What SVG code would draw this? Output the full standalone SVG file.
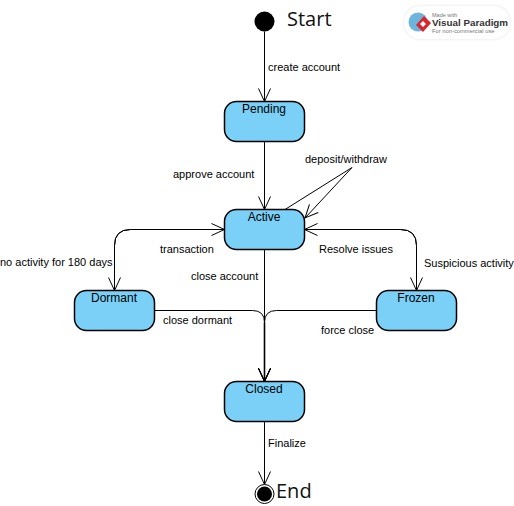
<svg xmlns="http://www.w3.org/2000/svg" width="514" height="506" viewBox="0 0 514 506">
<defs>
<filter id="soft" x="-20%" y="-40%" width="140%" height="180%"><feGaussianBlur stdDeviation="1.500"/></filter>
<marker id="open" markerUnits="userSpaceOnUse" markerWidth="16" markerHeight="14" refX="14" refY="7" viewBox="0 0 16 14" orient="auto"><path d="M1 1L14 7L1 13" fill="none" stroke="#000" stroke-width="1"/></marker>
</defs>
<style>
text{font-family:"Liberation Sans",Arial,sans-serif;fill:#000}
.state rect{fill:#7ad0f7;stroke:#000;stroke-width:1.5}
.state text{font-size:12px;text-anchor:middle}
.lbl{font-size:11px}
.big{font-family:"Open Sans","Noto Sans",sans-serif;font-size:20px;fill:#111}
#connectors path{fill:none;stroke:#000;stroke-width:1;marker-end:url(#open)}
#connectors path.plain{marker-end:none}
#connectors path.merge{stroke-width:1.6}
</style>
<rect width="514" height="506" fill="#fff"/>
<g id="connectors">
<path d="M264.500 31.500V101.500"/>
<path d="M264.500 141.500V209.500"/>
<path class="plain" d="M285 209.500L352 167.500"/>
<path d="M352 167.500L305 218"/>
<path d="M304.500 229.500H400.500Q416.500 229.500 416.500 245.500V290.500"/>
<path d="M416.500 245.500Q416.500 229.500 400.500 229.500H304.500"/>
<path d="M114.500 245.500Q114.500 229.500 130.500 229.500H224.500"/>
<path d="M224.500 229.500H130.500Q114.500 229.500 114.500 245.500V290.500"/>
<path d="M264.500 249.500V381.500"/>
<path d="M154.500 310.500H252.500Q264.500 310.500 264.500 322.500V381.500"/>
<path d="M376.500 310.500H276.500Q264.500 310.500 264.500 322.500V381.500"/>
<path class="merge" d="M264.500 322.500V381"/>
<path d="M264.500 421.500V484.500"/>
</g>
<g id="start"><circle cx="264.500" cy="21.500" r="10"/><text class="big" x="287" y="26">Start</text></g>
<g id="pending" class="state"><rect x="224.500" y="101.500" width="80" height="40" rx="12"/><text x="264" y="113">Pending</text></g>
<g id="active" class="state"><rect x="224.500" y="209.500" width="80" height="40" rx="12"/><text x="264" y="221">Active</text></g>
<g id="dormant" class="state"><rect x="74.500" y="290.500" width="80" height="40" rx="12"/><text x="114" y="302">Dormant</text></g>
<g id="frozen" class="state"><rect x="376.500" y="290.500" width="80" height="40" rx="12"/><text x="416" y="302">Frozen</text></g>
<g id="closed" class="state"><rect x="224.500" y="381.500" width="80" height="40" rx="12"/><text x="264" y="393">Closed</text></g>
<g id="end"><circle cx="264.500" cy="494" r="9.500" fill="#fff" stroke="#000"/><circle cx="264.500" cy="494" r="7.500"/><text class="big" x="276" y="498">End</text></g>
<g id="labels">
<text class="lbl" x="268" y="71">create account</text>
<text class="lbl" x="173" y="178">approve account</text>
<text class="lbl" x="305" y="163">deposit/withdraw</text>
<text class="lbl" x="160" y="253">transaction</text>
<text class="lbl" x="319" y="253">Resolve issues</text>
<text class="lbl" x="0" y="266">no activity for 180 days</text>
<text class="lbl" x="424" y="267">Suspicious activity</text>
<text class="lbl" x="191" y="280">close account</text>
<text class="lbl" x="163" y="324">close dormant</text>
<text class="lbl" x="321" y="334">force close</text>
<text class="lbl" x="268" y="447">Finalize</text>
</g>
<g id="logo">
<rect x="404" y="6" width="106" height="33" rx="16" fill="#000" opacity=".12" filter="url(#soft)"/>
<rect x="404" y="6" width="106" height="33" rx="16" fill="#fff"/>
<circle cx="418" cy="22" r="9.500" fill="#6db5dd"/>
<path d="M424 16L431 23L423 32L416 25Z" fill="#d8262c"/>
<path d="M423 21L426 24L423 27L420 24Z" fill="#fff"/>
<text x="432" y="17" font-size="5.500" style="fill:#777">Made with</text>
<text x="432" y="26" font-size="9.800" font-weight="bold" style="fill:#333">Visual Paradigm</text>
<text x="432" y="33" font-size="5.800" style="fill:#777">For non-commercial use</text>
</g>
</svg>
